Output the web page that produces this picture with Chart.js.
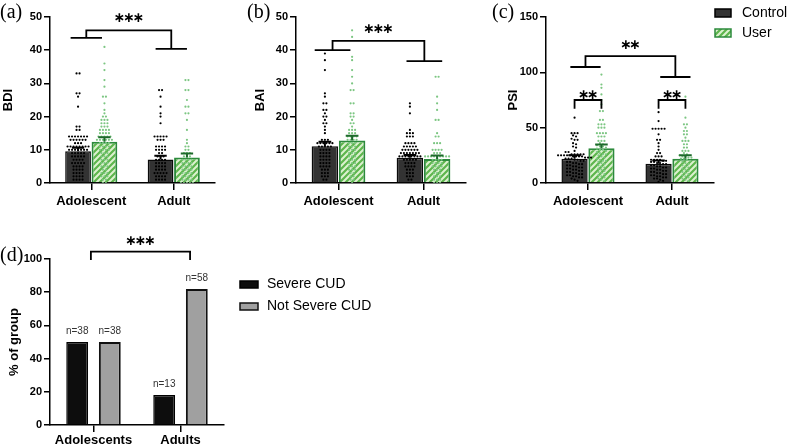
<!DOCTYPE html>
<html><head><meta charset="utf-8">
<script src="https://cdn.jsdelivr.net/npm/chart.js@4"></script>
<style>
html,body{margin:0;padding:0;background:#fff;}
#wrap{position:relative;width:787px;height:447px;overflow:hidden;background:#fff;}
canvas{position:absolute;left:0;top:0;}
</style></head><body><div id="wrap">
<canvas id="ca1" width="787" height="447"></canvas><canvas id="ca2" width="787" height="447"></canvas>
<canvas id="cb1" width="787" height="447"></canvas><canvas id="cb2" width="787" height="447"></canvas>
<canvas id="cc1" width="787" height="447"></canvas><canvas id="cc2" width="787" height="447"></canvas>
<canvas id="cd1" width="787" height="447"></canvas><canvas id="cd2" width="787" height="447"></canvas>
</div>
<script>
// ---------------- DATA ----------------
const groups = ['Adolescent', 'Adult'];
const groupsD = ['Adolescents', 'Adults'];
const seriesNames = ['Control', 'User'];
const cudNames = ['Severe CUD', 'Not Severe CUD'];
const panelLabels = ['(a)', '(b)', '(c)', '(d)'];
const yTitles = ['BDI', 'BAI', 'PSI', '% of group'];

// bar means and SEM
const bdiCtrl = [9.6, 7.1],  bdiUser = [12.4, 7.7];
const bdiCtrlSem = [1.0, 1.1], bdiUserSem = [1.4, 1.2];
const baiCtrl = [11.1, 7.6], baiUser = [12.8, 7.2];
const baiCtrlSem = [1.3, 0.8], baiUserSem = [1.4, 1.1];
const psiCtrl = [22.0, 17.5], psiUser = [31.5, 21.8];
const psiCtrlSem = [3.0, 2.8], psiUserSem = [3.2, 3.2];

// panel (d)
const severePct = [50, 18];
const notSeverePct = [50, 82];
const severeN = ['n=38', 'n=13'];
const notSevereN = ['n=38', 'n=58'];

// individual scores
const bdiAdolCtrl = [33,33,27,27,26,23,17,17,16,16,14,14,14,14,14,14,14,13,13,13,13,13,13,12,12,12,11,11,11,11,11,11,11,11,10,10,10,10,10,10,10,9,9,9,9,9,8,8,8,8,8,7,7,7,7,6,6,6,6,6,5,5,5,5,4,4,4,4,3,3,3,3,2,2,2,2,1,1,1,1,0,0,0];
const bdiAdolUser = [41,36,34,31,29,26,26,24,22,21,20,20,19,19,19,18,18,18,17,17,17,16,16,16,16,15,15,15,15,14,14,14,14,14,13,13,13,13,13,13,12,12,12,12,11,11,11,11,10,10,10,10,9,9,9,8,8,8,7,7,7,6,6,6,5,5,5,4,4,3,3,3,2,2,2,1,1,0,0];
const bdiAdultCtrl = [28,28,26,23,21,20,18,14,14,14,14,14,13,13,13,11,11,11,11,10,10,10,10,9,9,8,8,8,7,7,7,7,6,6,6,6,5,5,5,5,4,4,4,4,3,3,3,3,3,2,2,2,2,1,1,1,1,0,0,0,0,0];
const bdiAdultUser = [31,31,28,28,25,23,23,21,21,19,16,13,12,11,11,10,10,9,9,9,8,8,8,7,7,7,7,6,6,6,6,5,5,5,5,4,4,4,4,3,3,3,3,2,2,2,2,1,1,1,1,0,0,0,0,0];

const baiAdolCtrl = [39,37,34,27,26,24,24,22,22,21,20,20,19,18,18,17,16,15,13,13,13,12,12,12,12,12,12,11,11,11,11,11,10,10,10,10,9,9,9,9,8,8,8,8,7,7,7,7,6,6,6,6,5,5,5,5,4,4,4,3,3,3,2,2,2,1,1,0];
const baiAdolUser = [46,44,38,37,34,32,30,28,28,24,24,21,21,20,20,19,18,18,17,16,16,16,15,15,15,14,14,14,14,13,13,13,13,12,12,12,11,11,11,10,10,10,9,9,9,8,8,8,7,7,7,6,6,6,5,5,5,4,4,4,3,3,2,2,1,1,0];
const baiAdultCtrl = [24,23,21,16,15,15,15,14,14,14,12,12,12,12,11,11,11,11,11,10,10,10,10,10,10,9,9,9,9,9,9,9,8,8,8,8,8,8,8,8,7,7,7,7,7,6,6,6,6,5,5,5,5,4,4,4,3,3,3,2,2,2,1,1,0,0];
const baiAdultUser = [32,32,26,24,22,19,19,15,14,14,12,12,12,10,10,10,10,9,9,9,8,8,8,8,8,8,8,8,8,7,7,7,7,6,6,6,6,5,5,5,5,4,4,4,3,3,3,2,2,2,1,1,1,0,0,0];

const psiAdolCtrl = [59,45,45,45,43,42,40,39,39,36,35,33,32,29,28,28,26,26,26,26,26,25,25,25,25,25,24,24,24,24,23,23,23,22,22,22,21,21,20,20,19,19,18,18,17,17,16,16,15,15,14,14,13,13,12,12,11,11,10,10,9,9,8,8,7,7,6,6,5,5,4,3,2];
const psiAdolUser = [98,89,86,80,75,71,65,65,57,57,53,53,53,50,50,50,45,45,45,45,42,42,42,38,38,38,36,35,34,33,33,32,31,30,30,29,28,27,26,26,25,24,23,22,21,20,20,19,18,17,16,15,14,13,12,11,10,9,8,7,6,5,4,3,2];
const psiAdultCtrl = [64,56,49,49,49,49,49,44,39,39,36,33,30,27,27,24,24,24,21,21,21,21,20,20,19,19,18,18,17,17,16,16,15,15,14,14,13,13,12,12,11,11,10,10,9,9,8,8,7,7,6,6,5,5,4,4,3,2,1];
const psiAdultUser = [78,59,53,53,50,47,47,44,44,41,38,38,38,35,35,32,32,29,29,29,27,26,25,24,24,23,23,22,22,21,20,19,18,17,16,15,14,13,12,11,10,9,8,7,6,5,4,3,2];

// ---------------- STYLE / HELPERS ----------------
const FONT = "'Liberation Sans', Arial, Helvetica, sans-serif";
Chart.defaults.font.family = FONT;
Chart.defaults.color = '#000';

const CTRL_FILL = '#333333', CTRL_BORDER = '#0a0a0a';
const USER_BORDER = '#2c8a3c', USER_ERR = '#1d6a2b';
const CTRL_DOT = '#000000', USER_DOT = '#7cc682';

const hatch = (() => {
  const c = document.createElement('canvas'); c.width = 6; c.height = 6;
  const g = c.getContext('2d');
  g.fillStyle = '#dcf1cf'; g.fillRect(0, 0, 6, 6);
  g.strokeStyle = '#5db54c'; g.lineWidth = 2.2;
  g.beginPath();
  g.moveTo(-1, 7); g.lineTo(7, -1);
  g.moveTo(-1, 1); g.lineTo(1, -1);
  g.moveTo(5, 7); g.lineTo(7, 5);
  g.stroke();
  return g.createPattern(c, 'repeat');
})();

// beeswarm-like horizontal spreading of equal (binned) values
function swarm(vals, center, bin, step) {
  const bins = new Map();
  vals.forEach(v => {
    const k = Math.round(v / bin);
    if (!bins.has(k)) bins.set(k, []);
    bins.get(k).push(v);
  });
  const pts = [];
  bins.forEach(list => {
    const n = list.length;
    list.forEach((v, i) => pts.push({ x: center + (i - (n - 1) / 2) * step, y: v }));
  });
  return pts;
}

function groupBracket(xl, xr, h, y1, y2, yt) {
  return [[[xl - h, y1], [xl + h, y1]], [[xl, y1], [xl, yt], [xr, yt], [xr, y2]], [[xr - h, y2], [xr + h, y2]]];
}
function pairBracket(x1, x2, yb, yt) {
  return [[[x1, yb], [x1, yt], [x2, yt], [x2, yb]]];
}

// annotations drawn on the overlay chart (shares the same chart area)
const annot = {
  id: 'annot',
  afterDatasetsDraw(chart, args, o) {
    const ctx = chart.ctx, xs = chart.scales.xd, y = chart.scales.y;
    const px = v => xs.getPixelForValue(v), py = v => y.getPixelForValue(v);
    (o.errs || []).forEach(e => {
      e.vals.forEach((v, i) => {
        const cx = px(i + e.side * o.off);
        const y0 = py(v), y1 = py(v + e.sem[i]);
        const cw = o.barW * 0.24;
        ctx.save();
        ctx.strokeStyle = e.color; ctx.lineWidth = 2;
        ctx.beginPath();
        ctx.moveTo(cx, y0); ctx.lineTo(cx, y1);
        ctx.moveTo(cx - cw, y1); ctx.lineTo(cx + cw, y1);
        ctx.stroke();
        ctx.restore();
      });
    });
  },
  afterDraw(chart, args, o) {
    const ctx = chart.ctx, xs = chart.scales.xd, y = chart.scales.y;
    const px = v => xs.getPixelForValue(v), py = v => y.getPixelForValue(v);
    ctx.save();
    ctx.strokeStyle = '#000'; ctx.lineWidth = 1.8;
    (o.brackets || []).forEach(b => {
      ctx.beginPath();
      b.forEach(seg => seg.forEach((p, k) => {
        const X = px(p[0]), Y = py(p[1]);
        if (k === 0) ctx.moveTo(X, Y); else ctx.lineTo(X, Y);
      }));
      ctx.stroke();
    });
    (o.stars || []).forEach(s => {
      ctx.fillStyle = '#000';
      ctx.font = "bold 14px 'DejaVu Sans'";
      ctx.textAlign = 'center'; ctx.textBaseline = 'middle';
      const cx = px(s.x), cy = py(s.y) - s.dy;
      for (let i = 0; i < s.n; i++) ctx.fillText('\u2217', cx + (i - (s.n - 1) / 2) * s.gap, cy);
    });
    (o.nLabels || []).forEach(nl => {
      nl.vals.forEach((v, i) => {
        ctx.font = '10px ' + FONT; ctx.fillStyle = '#333';
        ctx.textAlign = 'center'; ctx.textBaseline = 'middle';
        ctx.fillText(nl.text[i], px(i + nl.side * o.off), py(v) - 11);
      });
    });
    (o.texts || []).forEach(t => {
      ctx.font = t.font; ctx.fillStyle = '#000';
      ctx.textAlign = 'left'; ctx.textBaseline = 'middle';
      ctx.fillText(t.text, t.x, t.y);
    });
    (o.legend || []).forEach(l => {
      ctx.fillStyle = l.fill;
      ctx.fillRect(l.x, l.y, l.w, l.h);
      ctx.strokeStyle = l.stroke; ctx.lineWidth = l.lw;
      ctx.strokeRect(l.x, l.y, l.w, l.h);
      ctx.font = '14px ' + FONT; ctx.fillStyle = '#000';
      ctx.textAlign = 'left'; ctx.textBaseline = 'middle';
      ctx.fillText(l.text, l.tx, l.y + l.h / 2);
    });
    ctx.restore();
  }
};

function panel(id, o) {
  const W = (o.right - o.axisX) / 2;
  const step = 3 / W;
  const off = o.cp / 4;
  // base bar chart with axes
  new Chart(document.getElementById(id + '1'), {
    type: 'bar',
    data: {
      labels: o.labels,
      datasets: [
        { label: o.names[0], data: o.bar0, backgroundColor: o.fill0, borderColor: o.border0,
          borderWidth: o.bw0, categoryPercentage: o.cp, barPercentage: o.bp },
        { label: o.names[1], data: o.bar1, backgroundColor: o.fill1, borderColor: o.border1,
          borderWidth: o.bw1, categoryPercentage: o.cp, barPercentage: o.bp }
      ]
    },
    options: {
      responsive: false, animation: false, events: [],
      layout: { padding: { left: o.padL, top: o.top, right: 787 - o.right, bottom: 447 - o.bottom - o.xh } },
      plugins: { legend: { display: false }, tooltip: { enabled: false } },
      scales: {
        x: {
          type: 'category', offset: true,
          grid: { display: true, drawOnChartArea: false, drawTicks: true, tickLength: 7, offset: false, color: '#000', lineWidth: 1.5 },
          border: { display: true, color: '#000', width: 1.5 },
          ticks: { font: { size: 13, weight: 'bold' }, color: '#000', padding: o.xpad, maxRotation: 0, autoSkip: false },
          afterFit: s => { s.height = o.xh; }
        },
        y: {
          min: 0, max: o.ymax,
          ticks: { stepSize: o.step, font: { size: 11, weight: 'bold' }, color: '#000', padding: 2 },
          grid: { display: true, drawOnChartArea: false, drawTicks: true, tickLength: 6, color: '#000', lineWidth: 1.5 },
          border: { display: true, color: '#000', width: 1.5 },
          title: { display: true, text: o.ytitle, font: { size: 13, weight: 'bold' }, color: '#000', padding: 0 },
          afterFit: s => { s.width = o.yw; }
        }
      }
    }
  });
  // overlay: individual points + annotations on the same chart area
  const dotSets = (o.dots || []).map(d => ({
    label: 'points', data: swarm(d.vals, d.g + (d.s === 0 ? -off : off), o.bin, step),
    backgroundColor: d.color, borderWidth: 0, pointRadius: 1.1, pointHoverRadius: 0,
    xAxisID: 'xd', yAxisID: 'y'
  }));
  const ann = Object.assign({ off: off, barW: o.cp * W / 2 * o.bp }, o.annot);
  new Chart(document.getElementById(id + '2'), {
    type: 'scatter',
    data: { datasets: dotSets },
    options: {
      responsive: false, animation: false, events: [],
      layout: { padding: { left: o.axisX, top: o.top, right: 787 - o.right, bottom: 447 - o.bottom } },
      plugins: { legend: { display: false }, tooltip: { enabled: false }, annot: ann },
      scales: {
        xd: { type: 'linear', axis: 'x', display: false, min: -0.5, max: 1.5 },
        y: { type: 'linear', axis: 'y', display: false, min: 0, max: o.ymax }
      }
    },
    plugins: [annot]
  });
}

const PANEL_FONT = "20px 'Liberation Serif', 'Times New Roman', serif";
const topCommon = {
  labels: groups, names: seriesNames,
  fill0: CTRL_FILL, border0: CTRL_BORDER, bw0: 1.5,
  fill1: hatch, border1: USER_BORDER, bw1: 2,
  cp: 0.64, bp: 0.975, top: 17, bottom: 183, xh: 30, xpad: 4
};
const cOff = topCommon.cp / 4;

// (a) BDI
panel('ca', Object.assign({}, topCommon, {
  axisX: 50, padL: 1, yw: 49, right: 215, ymax: 50, step: 10, ytitle: yTitles[0], bin: 1,
  bar0: bdiCtrl, bar1: bdiUser,
  dots: [
    { vals: bdiAdolCtrl, g: 0, s: 0, color: CTRL_DOT }, { vals: bdiAdolUser, g: 0, s: 1, color: USER_DOT },
    { vals: bdiAdultCtrl, g: 1, s: 0, color: CTRL_DOT }, { vals: bdiAdultUser, g: 1, s: 1, color: USER_DOT }
  ],
  annot: {
    errs: [{ side: -1, vals: bdiCtrl, sem: bdiCtrlSem, color: '#000' }, { side: 1, vals: bdiUser, sem: bdiUserSem, color: USER_ERR }],
    brackets: [groupBracket(-0.06, 0.97, 0.19, 43.7, 40.4, 46)],
    stars: [{ x: 0.455, y: 46, dy: 12, n: 3, gap: 9.5 }],
    texts: [{ text: panelLabels[0], x: 0, y: 13, font: PANEL_FONT }]
  }
}));

// (b) BAI
panel('cb', Object.assign({}, topCommon, {
  axisX: 296, padL: 253, yw: 43, right: 466, ymax: 50, step: 10, ytitle: yTitles[1], bin: 1,
  bar0: baiCtrl, bar1: baiUser,
  dots: [
    { vals: baiAdolCtrl, g: 0, s: 0, color: CTRL_DOT }, { vals: baiAdolUser, g: 0, s: 1, color: USER_DOT },
    { vals: baiAdultCtrl, g: 1, s: 0, color: CTRL_DOT }, { vals: baiAdultUser, g: 1, s: 1, color: USER_DOT }
  ],
  annot: {
    errs: [{ side: -1, vals: baiCtrl, sem: baiCtrlSem, color: '#000' }, { side: 1, vals: baiUser, sem: baiUserSem, color: USER_ERR }],
    brackets: [groupBracket(-0.07, 1.01, 0.21, 40, 36.7, 42.8)],
    stars: [{ x: 0.47, y: 42.8, dy: 12, n: 3, gap: 9.5 }],
    texts: [{ text: panelLabels[1], x: 247, y: 13, font: PANEL_FONT }]
  }
}));

// (c) PSI
panel('cc', Object.assign({}, topCommon, {
  axisX: 546, padL: 506, yw: 40, right: 714, ymax: 150, step: 50, ytitle: yTitles[2], bin: 3,
  bar0: psiCtrl, bar1: psiUser,
  dots: [
    { vals: psiAdolCtrl, g: 0, s: 0, color: CTRL_DOT }, { vals: psiAdolUser, g: 0, s: 1, color: USER_DOT },
    { vals: psiAdultCtrl, g: 1, s: 0, color: CTRL_DOT }, { vals: psiAdultUser, g: 1, s: 1, color: USER_DOT }
  ],
  annot: {
    errs: [{ side: -1, vals: psiCtrl, sem: psiCtrlSem, color: '#000' }, { side: 1, vals: psiUser, sem: psiUserSem, color: USER_ERR }],
    brackets: [
      groupBracket(-0.03, 1.04, 0.18, 104.8, 95.8, 114.7),
      pairBracket(-cOff, cOff, 67, 75),
      pairBracket(1 - cOff, 1 + cOff, 67, 75)
    ],
    stars: [
      { x: 0.505, y: 114.7, dy: 11, n: 2, gap: 9 },
      { x: 0, y: 75, dy: 5, n: 2, gap: 9 },
      { x: 1, y: 75, dy: 5, n: 2, gap: 9 }
    ],
    texts: [{ text: panelLabels[2], x: 492, y: 13, font: PANEL_FONT }],
    legend: [
      { x: 715, y: 9, w: 16, h: 8, fill: CTRL_FILL, stroke: '#000', lw: 1.5, text: seriesNames[0], tx: 742 },
      { x: 715, y: 29, w: 16, h: 8, fill: hatch, stroke: USER_BORDER, lw: 1.5, text: seriesNames[1], tx: 742 }
    ]
  }
}));

// (d) CUD severity
panel('cd', {
  labels: groupsD, names: cudNames,
  fill0: '#0d0d0d', border0: '#000', bw0: 1.5,
  fill1: '#a0a0a0', border1: '#111', bw1: 2,
  cp: 0.75, bp: 0.67, top: 259, bottom: 425, xh: 20, xpad: 1,
  axisX: 50, padL: 7, yw: 43, right: 224, ymax: 100, step: 20, ytitle: yTitles[3], bin: 1,
  bar0: severePct, bar1: notSeverePct,
  annot: {
    nLabels: [{ side: -1, vals: severePct, text: severeN }, { side: 1, vals: notSeverePct, text: notSevereN }],
    brackets: [pairBracket(-0.03, 1.11, 99.4, 104.4)],
    stars: [{ x: 0.54, y: 104.4, dy: 10, n: 3, gap: 9.5 }],
    texts: [{ text: panelLabels[3], x: 0, y: 256, font: PANEL_FONT }],
    legend: [
      { x: 240, y: 281, w: 18, h: 7, fill: '#0d0d0d', stroke: '#000', lw: 1.5, text: cudNames[0], tx: 267 },
      { x: 240, y: 303, w: 18, h: 7, fill: '#a0a0a0', stroke: '#111', lw: 1.5, text: cudNames[1], tx: 267 }
    ]
  }
});
</script>
</body></html>
